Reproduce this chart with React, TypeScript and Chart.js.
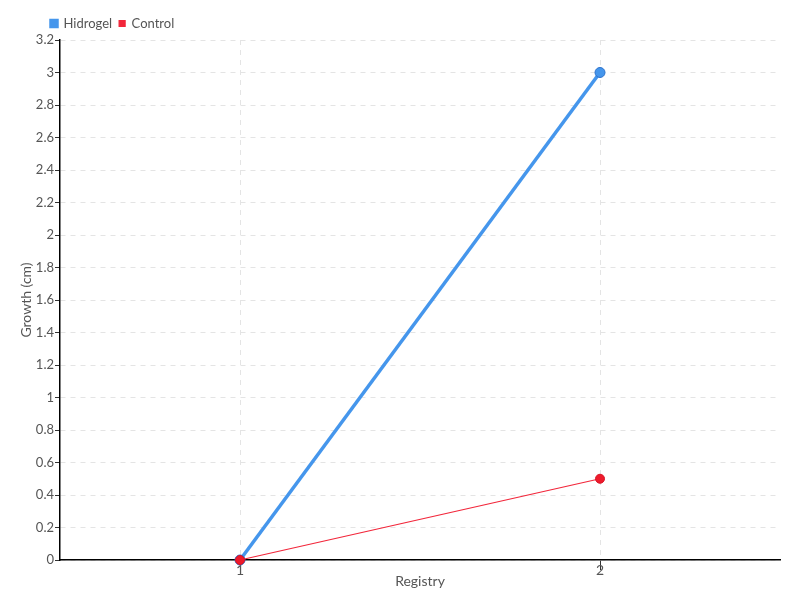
import React, { useEffect, useRef } from "react";
import { Chart, registerables } from "chart.js";

Chart.register(...registerables);

const categories = ["1", "2"];
const hidrogel = [0, 3];
const control = [0, 0.5];
const FONT = "Lato, 'Liberation Sans Narrow', sans-serif";

const legendShift = {
  id: "legendShift",
  afterLayout(chart: any) {
    const lg = chart.legend;
    if (lg) {
      lg.left = 44;
    }
  },
};

export default function App() {
  const ref = useRef<HTMLCanvasElement | null>(null);
  useEffect(() => {
    if (!ref.current) return;
    const chart = new Chart(ref.current, {
      type: "line",
      data: {
        labels: categories,
        datasets: [
          {
            label: "Hidrogel",
            data: hidrogel,
            order: 2,
            borderColor: "#4596ec",
            backgroundColor: "#4596ec",
            pointBackgroundColor: "#4596ec",
            pointBorderColor: "#2d72cc",
            borderWidth: 3.5,
            pointRadius: 5,
            pointBorderWidth: 1,
            tension: 0,
            clip: false,
          },
          {
            label: "Control",
            data: control,
            order: 1,
            borderColor: "#f2263a",
            backgroundColor: "#f2263a",
            pointBackgroundColor: "#ee1a2b",
            pointBorderColor: "#d81426",
            borderWidth: 1.2,
            pointRadius: 4.5,
            pointBorderWidth: 1,
            tension: 0,
            clip: false,
          },
        ],
      },
      options: {
        animation: false,
        responsive: false,
        maintainAspectRatio: false,
        layout: { padding: { left: 0, right: 20, top: 10, bottom: 10 } },
        plugins: {
          legend: {
            align: "start",
            labels: {
              boxWidth: 6,
              boxHeight: 6,
              padding: 7,
              color: "#555",
              font: { family: FONT, size: 13 },
              sort: (a: any, b: any) => a.datasetIndex - b.datasetIndex,
            },
          },
          tooltip: { enabled: false },
        },
        scales: {
          x: {
            type: "category",
            offset: true,
            border: { display: true, color: "#000", width: 1.5, dash: [5, 5] },
            grid: {
              display: true,
              offset: false,
              color: "#e4e4e4",
              tickColor: "#333",
              tickLength: 10,
              drawOnChartArea: true,
            },
            ticks: { color: "#555", padding: -8, font: { family: FONT, size: 14 } },
            title: { display: true, text: "Registry", color: "#555", padding: 0, font: { family: FONT, size: 14 } },
            afterFit: (s: any) => { s.height = 30; },
          },
          y: {
            min: 0,
            max: 3.2,
            border: { display: true, color: "#000", width: 1.5, dash: [5, 5] },
            grid: { color: "#e4e4e4", tickColor: "#333", tickLength: 5 },
            ticks: {
              stepSize: 0.2,
              color: "#555",
              padding: 1,
              font: { family: FONT, size: 13 },
              callback: (v: any) => String(Math.round(Number(v) * 10) / 10),
            },
            title: { display: true, text: "Growth (cm)", color: "#555", padding: { top: 18, bottom: 0 }, font: { family: FONT, size: 14 } },
            afterFit: (s: any) => { s.width = 60; },
          },
        },
      },
      plugins: [legendShift],
    } as any);
    return () => chart.destroy();
  }, []);
  return (
    <div style={{ position: "fixed", left: 0, top: 0, width: 800, height: 600 }}>
      <canvas ref={ref} width={800} height={600} style={{ width: 800, height: 600 }} />
    </div>
  );
}
